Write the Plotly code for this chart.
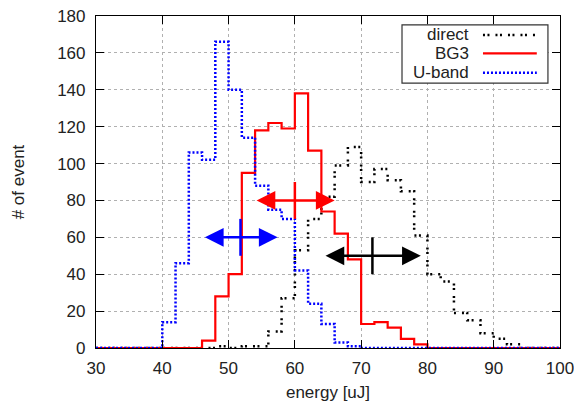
import plotly.graph_objects as go

# ---------------- data ----------------
bin_edges = [30, 32, 34, 36, 38, 40, 42, 44, 46, 48, 50, 52, 54, 56, 58, 60, 62, 64,
             66, 68, 70, 72, 74, 76, 78, 80, 82, 84, 86, 88, 90, 92, 94, 96, 98, 100]

direct_counts = [0, 0, 0, 0, 0, 0, 0, 0, 0, 1, 0, 1, 1, 9, 27, 53, 70, 82,
                 99, 109, 90, 97, 91, 85, 61, 40, 36, 19, 15, 8, 5, 2, 0, 0, 0]
bg3_counts = [0, 0, 0, 0, 0, 0, 0, 0, 4, 28, 40, 95, 118, 122, 119, 138, 107, 74,
              62, 48, 13, 14, 11, 5, 2, 0, 0, 0, 0, 0, 0, 0, 0, 0, 0]
uband_counts = [0, 0, 0, 0, 0, 14, 46, 106, 102, 166, 140, 114, 88, 75, 70, 42, 24, 13,
                3, 1, 0, 0, 0, 0, 0, 0, 0, 0, 0, 0, 0, 0, 0, 0, 0]

series_names = ["direct", "BG3", "U-band"]
series_counts = [direct_counts, bg3_counts, uband_counts]

# arrows: centre energy, half spread, level, vertical half-length
arrow_series = ["U-band", "BG3", "direct"]
arrow_center = [51.8, 60.0, 71.7]
arrow_half = [5.6, 6.0, 7.3]
arrow_level = [60, 80, 50]
arrow_vhalf = [10, 10, 10]

x_ticks = [30, 40, 50, 60, 70, 80, 90, 100]
y_ticks = [0, 20, 40, 60, 80, 100, 120, 140, 160, 180]

# ---------------- styles ----------------
colors = {"direct": "#000000", "BG3": "#ff0000", "U-band": "#0000ff"}
dashes = {"direct": "2px,2.5px,2px,6px", "BG3": "solid", "U-band": "2px,2px"}
widths = {"direct": 2.5, "BG3": 2.2, "U-band": 2.5}

FONT = "Liberation Sans, Arial, Helvetica, sans-serif"
TXT = "#222222"

fig = go.Figure()

for name, counts in zip(series_names, series_counts):
    fig.add_trace(go.Scatter(
        x=bin_edges,
        y=counts + [counts[-1]],
        mode="lines",
        line=dict(shape="hv", color=colors[name], width=widths[name], dash=dashes[name]),
        name=name,
        showlegend=False,
        hoverinfo="skip",
        cliponaxis=False,
    ))

# vertical bars of arrows
for name, c, lvl, vh in zip(arrow_series, arrow_center, arrow_level, arrow_vhalf):
    fig.add_trace(go.Scatter(
        x=[c, c], y=[lvl - vh, lvl + vh], mode="lines",
        line=dict(color=colors[name], width=2.5),
        showlegend=False, hoverinfo="skip",
    ))

# horizontal double-headed arrows
for name, c, hw, lvl in zip(arrow_series, arrow_center, arrow_half, arrow_level):
    fig.add_annotation(
        x=c + hw, y=lvl, ax=c - hw, ay=lvl,
        xref="x", yref="y", axref="x", ayref="y",
        text="", showarrow=True, arrowside="end+start",
        arrowhead=2, arrowsize=1.5, arrowwidth=2.5, arrowcolor=colors[name],
    )

# manual legend (text right-aligned, sample on the right)
leg_x0, leg_x1, leg_y0, leg_y1 = 0.6595, 0.974, 0.798, 0.973
fig.add_shape(type="rect", xref="paper", yref="paper",
              x0=leg_x0, x1=leg_x1, y0=leg_y0, y1=leg_y1,
              line=dict(color="#333333", width=1.2), fillcolor="white", layer="above")
row_y = [0.943, 0.8877, 0.829]
for name, ry in zip(series_names, row_y):
    fig.add_annotation(x=0.808, y=ry, xref="paper", yref="paper", text=name,
                       showarrow=False, xanchor="right", yanchor="middle",
                       font=dict(family=FONT, size=17, color=TXT))
    fig.add_shape(type="line", xref="paper", yref="paper",
                  x0=0.834, x1=0.950, y0=ry, y1=ry, layer="above",
                  line=dict(color=colors[name], width=widths[name], dash=dashes[name]))

axis_common = dict(
    showline=True, linecolor="#000000", linewidth=1.2, mirror="ticks",
    ticks="inside", ticklen=8, tickwidth=1.2, tickcolor="#000000",
    showgrid=True, gridcolor="#b0b0b0", gridwidth=1, griddash="dot",
    zeroline=False, tickfont=dict(family=FONT, size=17, color=TXT),
    ticklabeloverflow="allow",
)

fig.update_xaxes(range=[30, 100], tickvals=x_ticks, ticktext=[str(v) for v in x_ticks],
                 title=dict(text="energy [uJ]", font=dict(family=FONT, size=17, color=TXT), standoff=9),
                 ticklabelstandoff=4, **axis_common)
fig.update_yaxes(range=[0, 180], tickvals=y_ticks, ticktext=[str(v) for v in y_ticks],
                 title=dict(text="# of event", font=dict(family=FONT, size=17, color=TXT), standoff=28),
                 ticklabelstandoff=6, **axis_common)

fig.update_layout(
    width=574, height=400,
    margin=dict(l=88, r=22, t=8, b=60, autoexpand=False),
    paper_bgcolor="white", plot_bgcolor="white",
    showlegend=False,
    font=dict(family=FONT, color=TXT),
)

fig.write_html("out.html")
